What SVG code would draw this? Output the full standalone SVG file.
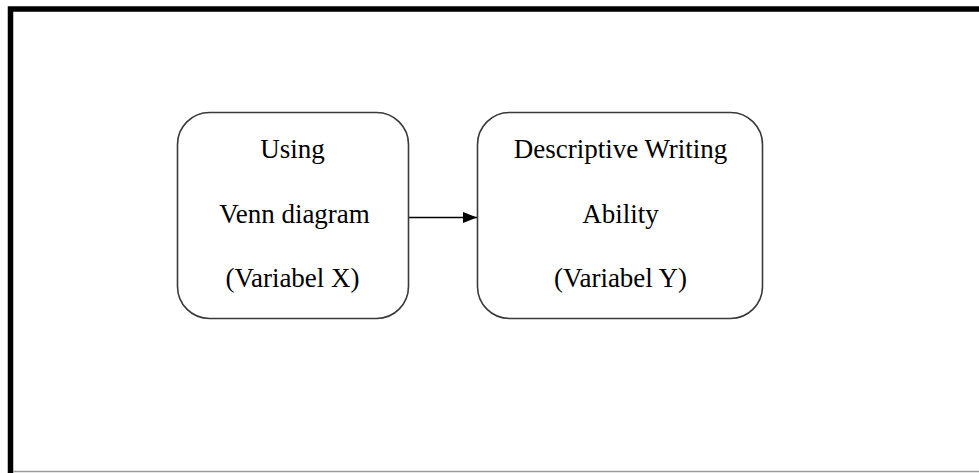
<svg xmlns="http://www.w3.org/2000/svg" width="979" height="473" viewBox="0 0 979 473">
<style>
.box{fill:#ffffff;stroke:#3a3a3a;stroke-width:1.6}
.t{font-family:"Liberation Serif","Times New Roman",serif;font-size:27px;fill:#000;text-anchor:middle}
</style>
<defs>
<marker id="ah" markerWidth="14" markerHeight="11" refX="14" refY="5.5" orient="auto" markerUnits="userSpaceOnUse">
<path d="M0,0 L14,5.5 L0,11 Z" fill="#000"/>
</marker>
</defs>
<rect width="979" height="473" fill="#ffffff"/>
<g id="frame">
<path d="M10.5,473 V9 H979" fill="none" stroke="#000" stroke-width="5.5"/>
<line x1="13" y1="471.5" x2="979" y2="471.5" stroke="#9a9a9a" stroke-width="1.5"/>
</g>
<g id="connectors">
<line x1="408" y1="217.5" x2="477" y2="217.5" stroke="#000" stroke-width="1.6" marker-end="url(#ah)"/>
</g>
<g id="nodeX">
<rect class="box" x="177.5" y="112.5" width="231" height="206" rx="32" ry="32"/>
<text class="t" x="292.5" y="158">Using</text>
<text class="t" x="294.5" y="223">Venn diagram</text>
<text class="t" x="292.5" y="287">(Variabel X)</text>
</g>
<g id="nodeY">
<rect class="box" x="477.5" y="112.5" width="285" height="206" rx="32" ry="32"/>
<text class="t" x="620.5" y="158">Descriptive Writing</text>
<text class="t" x="620.5" y="223">Ability</text>
<text class="t" x="620.5" y="287">(Variabel Y)</text>
</g>
</svg>
